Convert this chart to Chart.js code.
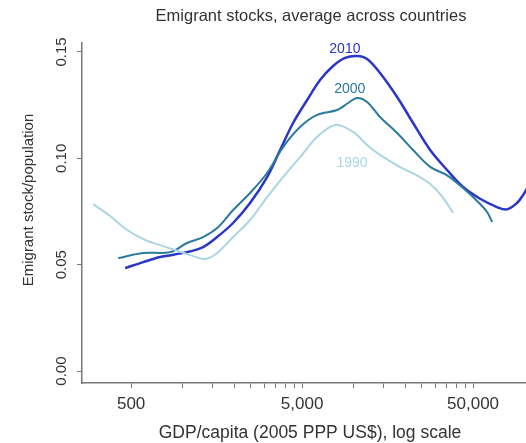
<!DOCTYPE html>
<html>
<head>
<meta charset="utf-8">
<script src="https://cdn.jsdelivr.net/npm/chart.js@4"></script>
<style>
  body { margin: 0; background: #fff; }
  #chart { display: block; }
</style>
</head>
<body>
<canvas id="chart" width="526" height="443"></canvas>
<script>
// GDP per capita (x) and emigrant stock / population (y)
const gdp1990 = [300, 377, 474, 604, 739, 904, 1107, 1355, 1592, 1974, 2481, 3121, 3872, 4866, 6118, 7800, 9940, 12000, 14290, 18700, 23500, 28000, 33000, 38200];
const val1990 = [0.0785, 0.0729, 0.0663, 0.0616, 0.0592, 0.0569, 0.0545, 0.0527, 0.0555, 0.0630, 0.0710, 0.0818, 0.0912, 0.1006, 0.1100, 0.1157, 0.1124, 0.1063, 0.1016, 0.0959, 0.0920, 0.0880, 0.0820, 0.0743];

const gdp2000 = [420, 588, 846, 1062, 1318, 1592, 1974, 2481, 3121, 3872, 4866, 6118, 8015, 9290, 10490, 12000, 14290, 17980, 22290, 28050, 35240, 43740, 54960, 60400, 64600];
const val2000 = [0.0531, 0.0555, 0.0559, 0.0602, 0.0630, 0.0672, 0.0757, 0.0837, 0.0931, 0.1053, 0.1147, 0.1204, 0.1227, 0.1260, 0.1284, 0.1265, 0.1194, 0.1119, 0.1039, 0.0960, 0.0920, 0.0860, 0.0785, 0.0748, 0.0701];

const gdp2010 = [461, 588, 739, 1062, 1318, 1592, 1974, 2481, 3121, 3718, 4430, 5350, 6370, 7590, 8920, 10490, 12000, 14290, 17980, 22290, 28050, 35240, 43740, 54960, 69000, 79000, 90400, 98000, 107700];
const val2010 = [0.0484, 0.0512, 0.0536, 0.0559, 0.0583, 0.0630, 0.0696, 0.0790, 0.0912, 0.1039, 0.1166, 0.1274, 0.1368, 0.1434, 0.1472, 0.1481, 0.1467, 0.1401, 0.1288, 0.1166, 0.1039, 0.0945, 0.0865, 0.0810, 0.0771, 0.0760, 0.0790, 0.0827, 0.0884];

const xTicks = [500, 1000, 1500, 2000, 2500, 3000, 3500, 4000, 4500, 5000,
                10000, 15000, 20000, 25000, 30000, 35000, 40000, 45000, 50000];
const xLabelled = [500, 5000, 50000];
const yTicks = [0, 0.05, 0.10, 0.15];

const yearLabels = ['2010', '2000', '1990'];
const yearLabelGdp = [8900, 9500, 9800];
const yearLabelVal = [0.1515, 0.1326, 0.0978];

const colors = ['#2b36c8', '#2a7b9b', '#a9d6e4'];

function pts(xs, ys) {
  return xs.map(function (x, i) { return { x: x, y: ys[i] }; });
}

const textPlugin = {
  id: 'texts',
  afterDraw: function (chart) {
    const ctx = chart.ctx;
    const xs = chart.scales.x, ys = chart.scales.y;
    ctx.save();
    ctx.fillStyle = '#333';
    ctx.textAlign = 'center';
    ctx.textBaseline = 'middle';

    ctx.font = '16.5px "Liberation Sans", Arial, sans-serif';
    ctx.fillText('Emigrant stocks, average across countries', 311, 16);

    ctx.font = '17.5px "Liberation Sans", Arial, sans-serif';
    ctx.fillText('GDP/capita (2005 PPP US$), log scale', 310, 433);

    // rotated y texts
    ctx.font = '15px "Liberation Sans", Arial, sans-serif';
    yTicks.forEach(function (v) {
      ctx.save();
      ctx.translate(62, ys.getPixelForValue(v));
      ctx.rotate(-Math.PI / 2);
      ctx.fillText(v.toFixed(2), 0, 0);
      ctx.restore();
    });
    ctx.save();
    ctx.translate(29, 200);
    ctx.rotate(-Math.PI / 2);
    ctx.fillText('Emigrant stock/population', 0, 0);
    ctx.restore();

    ctx.font = '14px "Liberation Sans", Arial, sans-serif';
    yearLabels.forEach(function (t, i) {
      ctx.fillStyle = colors[i];
      ctx.fillText(t, xs.getPixelForValue(yearLabelGdp[i]), ys.getPixelForValue(yearLabelVal[i]));
    });
    ctx.restore();
  }
};

new Chart(document.getElementById('chart'), {
  type: 'line',
  data: {
    datasets: [
      { label: '1990', data: pts(gdp1990, val1990), borderColor: colors[2], borderWidth: 2 },
      { label: '2000', data: pts(gdp2000, val2000), borderColor: colors[1], borderWidth: 2 },
      { label: '2010', data: pts(gdp2010, val2010), borderColor: colors[0], borderWidth: 2.5 }
    ]
  },
  options: {
    responsive: false,
    animation: false,
    devicePixelRatio: 1,
    layout: { padding: { top: 43, left: 0, right: 0, bottom: 0 } },
    elements: {
      point: { radius: 0 },
      line: { tension: 0.35, fill: false }
    },
    plugins: {
      legend: { display: false },
      tooltip: { enabled: false },
      title: { display: false }
    },
    scales: {
      x: {
        type: 'logarithmic',
        min: 258,
        max: 102000,
        afterBuildTicks: function (scale) {
          scale.ticks = xTicks.map(function (v) { return { value: v }; });
        },
        afterFit: function (scale) { scale.height = 60; },
        ticks: {
          autoSkip: false,
          maxRotation: 0,
          padding: 6,
          color: '#333',
          font: { family: '"Liberation Sans", Arial, sans-serif', size: 17 },
          callback: function (v) {
            return xLabelled.indexOf(v) >= 0 ? v.toLocaleString('en-US') : '';
          }
        },
        grid: { drawOnChartArea: false, drawTicks: true, tickLength: 5, color: '#777', lineWidth: 1 },
        border: { display: true, color: '#777', width: 1.5 }
      },
      y: {
        type: 'linear',
        min: -0.0056,
        max: 0.1542,
        afterBuildTicks: function (scale) {
          scale.ticks = yTicks.map(function (v) { return { value: v }; });
        },
        afterFit: function (scale) { scale.width = 82; },
        ticks: { display: false },
        grid: { drawOnChartArea: false, drawTicks: true, tickLength: 5, color: '#777', lineWidth: 1 },
        border: { display: true, color: '#777', width: 1.5 }
      }
    }
  },
  plugins: [textPlugin]
});
</script>
</body>
</html>
